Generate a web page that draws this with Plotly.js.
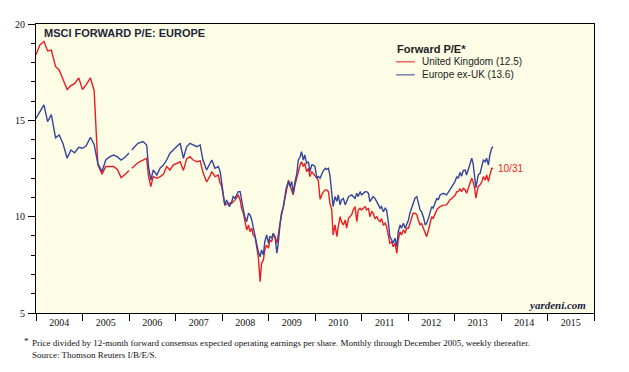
<!DOCTYPE html>
<html>
<head>
<meta charset="utf-8">
<script src="https://cdn.plot.ly/plotly-3.0.1.min.js"></script>
<style>
html,body{margin:0;padding:0;background:#fff;}
#chart{width:629px;height:372px;}
</style>
</head>
<body>
<div id="chart"></div>
<script>
// Monthly through December 2005 (decimal years)
const monthDates = [2004.00, 2004.08, 2004.17, 2004.25, 2004.33, 2004.42, 2004.50, 2004.58, 2004.67, 2004.75, 2004.83, 2004.92,
  2005.00, 2005.08, 2005.17, 2005.25, 2005.33, 2005.42, 2005.50, 2005.58, 2005.67, 2005.75, 2005.83, 2005.92, 2006.00];
const ukMonthly = [18.4, 18.9, 19.1, 18.6, 18.65, 17.8, 17.6, 17.1, 16.6, 16.8, 16.9, 17.2,
  16.6, 16.85, 17.2, 16.55, 12.7, 12.2, 12.6, 12.6, 12.6, 12.45, 12.03, 12.2, 12.39];
const euMonthly = [15.1, 15.45, 15.8, 14.93, 15.3, 14.1, 14.24, 13.8, 13.03, 13.46, 13.32, 13.6,
  13.55, 13.68, 14.12, 13.75, 12.75, 12.34, 12.94, 13.1, 13.2, 13.1, 12.94, 13.1, 13.3];

// Weekly thereafter (sampled, decimal years)
const wkDates = [
  2006.06, 2006.19, 2006.30, 2006.38, 2006.42, 2006.47, 2006.52, 2006.60, 2006.67, 2006.74,
  2006.81, 2006.88, 2006.95, 2007.03, 2007.10, 2007.17, 2007.24, 2007.31, 2007.38, 2007.46,
  2007.53, 2007.59, 2007.67, 2007.74, 2007.78, 2007.85, 2007.92, 2007.96, 2007.99, 2008.03,
  2008.06, 2008.10, 2008.16, 2008.21, 2008.24, 2008.28, 2008.32, 2008.35, 2008.39, 2008.42,
  2008.46, 2008.49, 2008.53, 2008.57, 2008.60, 2008.64, 2008.67, 2008.71, 2008.75, 2008.78,
  2008.82, 2008.85, 2008.89, 2008.92, 2008.96, 2009.00, 2009.03, 2009.07, 2009.10, 2009.14,
  2009.18, 2009.21, 2009.25, 2009.28, 2009.32, 2009.38, 2009.43, 2009.46, 2009.50, 2009.53,
  2009.57, 2009.61, 2009.64, 2009.68, 2009.71, 2009.75, 2009.78, 2009.82, 2009.86, 2009.89,
  2009.93, 2009.96, 2010.00, 2010.04, 2010.07, 2010.11, 2010.17, 2010.22, 2010.25, 2010.29,
  2010.32, 2010.36, 2010.39, 2010.43, 2010.47, 2010.50, 2010.54, 2010.57, 2010.61, 2010.65,
  2010.68, 2010.72, 2010.79, 2010.82, 2010.86, 2010.90, 2010.93, 2010.97, 2011.00, 2011.04,
  2011.08, 2011.11, 2011.15, 2011.18, 2011.22, 2011.25, 2011.29, 2011.33, 2011.36, 2011.40,
  2011.43, 2011.47, 2011.51, 2011.54, 2011.58, 2011.61, 2011.65, 2011.68, 2011.72, 2011.76,
  2011.79, 2011.83, 2011.86, 2011.90, 2011.94, 2011.97, 2012.01, 2012.04, 2012.08, 2012.11,
  2012.15, 2012.19, 2012.22, 2012.26, 2012.29, 2012.33, 2012.37, 2012.40, 2012.44, 2012.47,
  2012.51, 2012.54, 2012.58, 2012.62, 2012.65, 2012.69, 2012.76, 2012.83, 2012.90, 2012.97,
  2013.01, 2013.05, 2013.08, 2013.12, 2013.15, 2013.19, 2013.23, 2013.26, 2013.30, 2013.33,
  2013.37, 2013.40, 2013.44, 2013.46, 2013.49, 2013.51, 2013.55, 2013.59, 2013.62, 2013.66,
  2013.69, 2013.73, 2013.76, 2013.80, 2013.83];

const euWeekly = [
  13.46, 13.81, 13.90, 13.72, 12.60, 11.90, 12.42, 12.16, 12.53, 12.68,
  12.94, 13.29, 13.46, 13.63, 13.81, 13.03, 13.63, 13.81, 13.72, 13.63,
  13.72, 12.94, 12.42, 12.77, 12.94, 12.51, 12.60, 12.34, 11.73, 11.21,
  10.61, 10.87, 10.52, 10.78, 11.04, 10.95, 11.13, 11.30, 11.30, 10.78,
  10.35, 10.00, 9.74, 10.18, 10.10, 9.83, 9.48, 9.14, 8.62, 8.18,
  7.92, 8.27, 8.01, 8.70, 9.05, 8.62, 8.96, 8.90, 9.14, 8.96,
  8.10, 8.62, 9.66, 10.18, 10.52, 11.47, 11.82, 11.56, 11.82, 11.21,
  11.82, 12.25, 12.94, 13.11, 13.37, 12.94, 13.20, 12.77, 12.85, 12.34,
  12.68, 12.68, 12.60, 11.99, 12.08, 12.00, 12.34, 12.51, 12.45, 12.51,
  12.16, 11.30, 10.52, 11.04, 10.80, 11.13, 10.61, 10.87, 10.95, 10.61,
  10.78, 11.04, 11.13, 11.04, 10.95, 11.21, 11.04, 11.30, 11.13, 11.21,
  11.30, 11.30, 11.21, 10.78, 10.95, 11.04, 10.95, 10.78, 10.61, 10.44,
  10.52, 10.26, 10.44, 10.35, 9.66, 8.96, 8.79, 8.62, 8.88, 8.44,
  9.22, 9.57, 9.40, 9.66, 9.40, 9.57, 9.83, 10.18, 10.44, 10.61,
  10.96, 11.04, 10.70, 10.35, 10.26, 10.00, 9.57, 9.66, 9.91, 10.18,
  10.52, 10.44, 10.70, 10.96, 10.87, 11.13, 11.21, 11.13, 11.39, 11.70,
  11.82, 12.08, 11.99, 12.30, 12.10, 12.40, 12.42, 12.16, 12.45, 12.68,
  13.03, 12.77, 11.82, 11.50, 11.90, 12.16, 12.25, 12.60, 12.94, 12.85,
  13.03, 12.68, 13.20, 13.55, 13.63];

const ukWeekly = [
  12.51, 12.80, 12.94, 13.03, 12.08, 11.56, 12.08, 11.99, 12.08, 12.20,
  12.60, 12.42, 12.68, 12.77, 12.85, 12.40, 13.00, 13.11, 12.94, 12.85,
  12.90, 12.30, 11.80, 12.10, 12.34, 12.08, 12.16, 11.73, 11.60, 11.04,
  10.61, 10.65, 10.70, 10.70, 10.80, 10.87, 11.00, 11.13, 10.87, 10.44,
  10.18, 9.70, 9.31, 9.57, 9.22, 9.40, 9.05, 8.96, 8.44, 7.92,
  6.63, 7.58, 7.75, 8.27, 8.53, 8.36, 8.79, 8.70, 9.05, 8.96,
  8.62, 9.14, 9.66, 10.10, 10.52, 11.39, 11.90, 11.65, 11.39, 11.13,
  11.65, 12.08, 12.34, 12.68, 12.85, 12.60, 12.77, 12.34, 12.51, 12.08,
  12.34, 12.25, 12.16, 11.99, 11.90, 10.90, 11.25, 11.39, 11.39, 11.30,
  10.70, 10.35, 9.05, 9.57, 8.96, 9.48, 10.00, 9.74, 9.57, 9.83,
  9.40, 9.91, 10.10, 10.35, 10.52, 9.74, 10.35, 10.44, 10.35, 10.44,
  10.52, 10.35, 10.44, 10.00, 10.26, 10.18, 9.91, 10.00, 9.83, 9.74,
  9.91, 9.57, 9.66, 9.48, 8.88, 8.62, 8.70, 8.44, 8.62, 8.10,
  8.79, 9.22, 9.05, 9.31, 9.14, 9.40, 9.40, 9.66, 10.00, 10.18,
  10.18, 10.10, 9.83, 9.57, 9.66, 9.40, 9.22, 8.96, 9.31, 9.66,
  10.00, 9.91, 10.18, 10.35, 10.44, 10.52, 10.60, 10.61, 10.87, 11.04,
  11.10, 11.30, 11.30, 11.45, 11.30, 11.47, 11.39, 11.21, 11.47, 11.65,
  11.99, 11.82, 11.39, 10.96, 11.30, 11.56, 11.65, 11.82, 12.08, 11.90,
  12.16, 11.82, 12.16, 12.51, 12.50];

const yearLabels = ['2004','2005','2006','2007','2008','2009','2010','2011','2012','2013','2014','2015'];
const yearStarts = [2004,2005,2006,2007,2008,2009,2010,2011,2012,2013,2014,2015,2016];
const legendTitle = 'Forward P/E*';
const ukName = 'United Kingdom (12.5)';
const euName = 'Europe ex-UK (13.6)';
const lastLabel = '10/31';

const RED = '#ec1c24';
const BLUE = '#35449c';
const SERIF = '"Liberation Serif", "Times New Roman", serif';
const SANS = '"Liberation Sans", Arial, sans-serif';

// monthly segment, a break, then weekly segment
const gapX = [2006.03];
const xAll = monthDates.concat(gapX, wkDates);
const ukAll = ukMonthly.concat([null], ukWeekly);
const euAll = euMonthly.concat([null], euWeekly);

const traces = [
  {x: xAll, y: ukAll, type: 'scatter', mode: 'lines', name: ukName,
   line: {color: RED, width: 1.4}, connectgaps: false},
  {x: xAll, y: euAll, type: 'scatter', mode: 'lines', name: euName,
   line: {color: BLUE, width: 1.4}, connectgaps: false}
];

const labelPos = yearStarts.slice(0, -1).map(v => v + 0.5);

// legend drawn as paper-positioned text + sample lines
const legX0 = 0.645, legX1 = 0.679, legTextX = 0.688;
const legRows = [
  {name: ukName, color: RED, y: 0.869},
  {name: euName, color: BLUE, y: 0.824}
];

const annotations = [
  {xref: 'paper', yref: 'paper', x: 0.011, y: 0.969, xanchor: 'left', yanchor: 'middle',
   text: '<b>MSCI FORWARD P/E: EUROPE</b>', showarrow: false,
   font: {family: SANS, size: 11, color: '#22253a'}},
  {xref: 'paper', yref: 'paper', x: legX0 - 0.002, y: 0.9135, xanchor: 'left', yanchor: 'middle',
   text: '<b>' + legendTitle + '</b>', showarrow: false,
   font: {family: SANS, size: 11, color: '#222'}},
  {xref: 'x', yref: 'y', x: wkDates[wkDates.length - 1], y: ukWeekly[ukWeekly.length - 1],
   xanchor: 'left', yanchor: 'middle', xshift: 3, text: lastLabel, showarrow: false,
   font: {family: SANS, size: 10, color: RED}},
  {xref: 'paper', yref: 'paper', x: 0.989, y: 0.028, xanchor: 'right', yanchor: 'middle',
   text: '<b><i>yardeni.com</i></b>', showarrow: false,
   font: {family: SERIF, size: 11, color: '#1c1c40'}},
  {xref: 'paper', yref: 'paper', x: -0.025, y: -0.097, xanchor: 'left', yanchor: 'middle',
   text: '*', showarrow: false, font: {family: SERIF, size: 9, color: '#111'}},
  {xref: 'paper', yref: 'paper', x: -0.011, y: -0.08, xanchor: 'left', yanchor: 'top',
   align: 'left',
   text: 'Price divided by 12-month forward consensus expected operating earnings per share. Monthly through December 2005, weekly thereafter.<br>Source: Thomson Reuters I/B/E/S.',
   showarrow: false, font: {family: SERIF, size: 9, color: '#111'}}
];
const shapes = [];
legRows.forEach(r => {
  annotations.push({xref: 'paper', yref: 'paper', x: legTextX, y: r.y, xanchor: 'left', yanchor: 'middle',
    text: r.name, showarrow: false, font: {family: SANS, size: 10, color: '#222'}});
  shapes.push({type: 'line', xref: 'paper', yref: 'paper', x0: legX0, x1: legX1, y0: r.y, y1: r.y,
    line: {color: r.color, width: 1}});
});

const layout = {
  width: 629, height: 372,
  margin: {l: 36, r: 35, t: 24, b: 59},
  paper_bgcolor: '#ffffff',
  plot_bgcolor: '#fdfde6',
  showlegend: false,
  xaxis: {
    range: [2004, 2016], showgrid: false, zeroline: false,
    showline: true, linecolor: '#000', linewidth: 1, mirror: true,
    tickmode: 'array', tickvals: labelPos, ticktext: yearLabels,
    ticks: 'outside', ticklen: 0, tickcolor: '#000',
    ticklabelstandoff: 0,
    tickfont: {family: SERIF, size: 10, color: '#111'},
    minor: {tickmode: 'array', tickvals: yearStarts, ticks: 'outside', ticklen: 7, tickcolor: '#000', tickwidth: 1, showgrid: false}
  },
  yaxis: {
    range: [5, 20], showgrid: false, zeroline: false,
    showline: true, linecolor: '#000', linewidth: 1, mirror: true,
    tickmode: 'array', tickvals: [5, 10, 15, 20],
    ticks: 'outside', ticklen: 7, tickcolor: '#000',
    ticklabelstandoff: 1,
    tickfont: {family: SERIF, size: 10, color: '#111'},
    minor: {dtick: 1, tick0: 5, ticks: 'outside', ticklen: 4, tickcolor: '#000', showgrid: false}
  },
  yaxis2: {
    range: [5, 20], overlaying: 'y', side: 'right', anchor: 'x',
    showgrid: false, zeroline: false, showline: false,
    tickmode: 'array', tickvals: [5, 10, 15, 20],
    ticks: 'outside', ticklen: 7, tickcolor: '#000',
    ticklabelstandoff: 1,
    tickfont: {family: SERIF, size: 10, color: '#111'},
    minor: {dtick: 1, tick0: 5, ticks: 'outside', ticklen: 4, tickcolor: '#000', showgrid: false}
  },
  annotations: annotations,
  shapes: shapes
};

Plotly.newPlot('chart', traces, layout, {displayModeBar: false, staticPlot: true});
</script>
</body>
</html>
